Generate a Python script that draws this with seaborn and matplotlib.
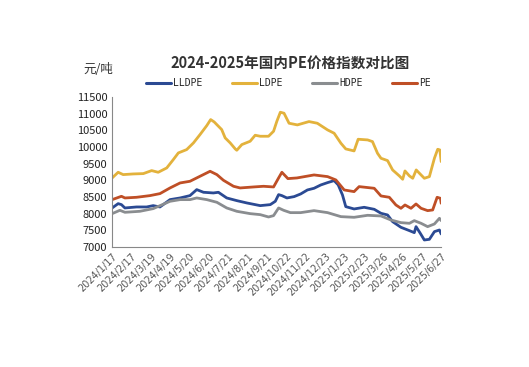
import matplotlib
matplotlib.use('Agg')
import matplotlib.pyplot as plt
import seaborn as sns
import pandas as pd

# 数据（按图读取，x 为刻度位置，单位约为一个月）
tick_labels = ['2024/1/17', '2024/2/17', '2024/3/19', '2024/4/19', '2024/5/20', '2024/6/20',
               '2024/7/21', '2024/8/21', '2024/9/21', '2024/10/22', '2024/11/22', '2024/12/23',
               '2025/1/23', '2025/2/23', '2025/3/26', '2025/4/26', '2025/5/27', '2025/6/27']

lldpe_x = [0, 0.31, 0.48, 0.66, 1.26, 1.78, 2.12, 2.47, 2.99, 3.51, 4.02, 4.37, 4.72, 5.23, 5.49,
           5.92, 6.44, 6.96, 7.65, 8.17, 8.43, 8.6, 8.77, 9.03, 9.4, 9.74, 10.09, 10.43, 10.78,
           11.13, 11.47, 11.68, 11.9, 12.07, 12.5, 13.02, 13.54, 13.89, 14.23, 14.49, 14.92,
           15.36, 15.61, 15.7, 15.92, 16.13, 16.39, 16.65, 16.91, 17]
lldpe_y = [8170, 8300, 8270, 8170, 8200, 8200, 8240, 8200, 8420, 8470, 8540, 8720, 8640, 8620, 8640,
           8470, 8390, 8320, 8240, 8270, 8370, 8570, 8540, 8470, 8510, 8590, 8710, 8760, 8860,
           8930, 8990, 8860, 8560, 8210, 8140, 8190, 8130, 8010, 7960, 7760, 7590,
           7490, 7430, 7610, 7410, 7210, 7230, 7460, 7510, 7390]

ldpe_x = [0, 0.31, 0.57, 1.09, 1.61, 2.04, 2.38, 2.82, 3.16, 3.42, 3.85, 4.2, 4.54, 4.89, 5.09,
          5.27, 5.49, 5.66, 5.84, 6.1, 6.36, 6.44, 6.7, 7.13, 7.39, 7.65, 8.08, 8.34, 8.51, 8.69,
          8.88, 9.14, 9.57, 10.17, 10.6, 11.13, 11.47, 11.82, 12.07, 12.5, 12.71, 13.2, 13.45,
          13.71, 13.89, 14.23, 14.49, 14.84, 15.01, 15.13, 15.36, 15.53, 15.71, 15.96, 16.13,
          16.39, 16.65, 16.82, 16.93, 17]
ldpe_y = [9070, 9240, 9170, 9190, 9200, 9290, 9240, 9370, 9620, 9820, 9920, 10120, 10370, 10640, 10820,
          10750, 10620, 10520, 10270, 10120, 9940, 9900, 10070, 10170, 10350, 10320, 10320, 10470, 10770, 11040,
          11010, 10710, 10660, 10760, 10710, 10510, 10410, 10110, 9940, 9880, 10230, 10210, 10160,
          9810, 9660, 9590, 9310, 9130, 9030, 9280, 9130, 9060, 9310, 9160, 9060,
          9110, 9660, 9930, 9910, 9560]

hdpe_x = [0, 0.4, 0.66, 1.43, 2.12, 2.99, 3.51, 4.02, 4.37, 4.89, 5.41, 5.92, 6.44, 7.13, 7.65,
          8.08, 8.34, 8.6, 8.86, 9.21, 9.74, 10.43, 11.13, 11.82, 12.5, 13.2, 13.89, 14.4, 14.92,
          15.36, 15.61, 15.96, 16.3, 16.65, 16.91, 17]
hdpe_y = [8000, 8100, 8040, 8070, 8150, 8370, 8420, 8420, 8470, 8420, 8340, 8170, 8070, 8000, 7970,
          7900, 7940, 8170, 8100, 8030, 8030, 8090, 8030, 7910, 7890, 7950, 7930, 7810, 7730,
          7710, 7790, 7710, 7610, 7690, 7860, 7790]

pe_x = [0, 0.48, 0.66, 1.26, 1.95, 2.47, 2.99, 3.51, 4.02, 4.54, 5.06, 5.41, 5.75, 6.27, 6.61,
        7.31, 7.82, 8.34, 8.6, 8.77, 9.08, 9.55, 10.43, 11.13, 11.56, 11.99, 12.5, 12.76, 13.54,
        13.89, 14.32, 14.66, 14.92, 15.13, 15.44, 15.7, 15.96, 16.3, 16.56, 16.79, 16.96, 17]
pe_y = [8420, 8520, 8470, 8490, 8540, 8600, 8770, 8920, 8970, 9120, 9270, 9170, 9000, 8820, 8770,
        8800, 8820, 8800, 9070, 9240, 9050, 9070, 9160, 9110, 9010, 8710, 8660, 8810, 8760,
        8530, 8490, 8260, 8160, 8260, 8160, 8290, 8160, 8090, 8110, 8490, 8460, 8310]

series = {'LLDPE': (lldpe_x, lldpe_y), 'LDPE': (ldpe_x, ldpe_y),
          'HDPE': (hdpe_x, hdpe_y), 'PE': (pe_x, pe_y)}
colors = {'LLDPE': '#2b4a93', 'LDPE': '#e3b23c', 'HDPE': '#8a8d90', 'PE': '#bf4f26'}

df = pd.concat([pd.DataFrame({'x': xs, 'price': ys, 'name': k}) for k, (xs, ys) in series.items()])

sns.set_style('white')
plt.rcParams['font.family'] = ['Noto Sans CJK SC', 'DejaVu Sans']

fig = plt.figure(figsize=(5.29, 3.67), dpi=100)
ax = fig.add_axes([0.212, 0.327, 0.622, 0.409])

sns.lineplot(data=df, x='x', y='price', hue='name', palette=colors, sort=False,
             estimator=None, linewidth=2.0, ax=ax, legend=False)

ax.set_xlim(0, 17)
ax.set_ylim(7000, 11500)
ax.set_yticks(range(7000, 11501, 500))
ax.set_xticks(range(len(tick_labels)))
ax.set_xticklabels(tick_labels, rotation=45, ha='right', rotation_mode='anchor',
                   fontsize=7, color='#555555', family='DejaVu Sans')
ax.tick_params(axis='y', labelsize=8, colors='#222222', direction='in', length=3, color='#888888')
ax.tick_params(axis='x', direction='in', length=3, color='#888888', pad=3)
ax.set_xlabel('')
ax.set_ylabel('')
for s in ['top', 'right']:
    ax.spines[s].set_visible(False)
for s in ['left', 'bottom']:
    ax.spines[s].set_color('#888888')
    ax.spines[s].set_linewidth(0.8)

fig.text(0.548, 0.83, '2024-2025年国内PE价格指数对比图', ha='center', va='center',
         fontsize=10.5, fontweight='bold', color='#333333')
fig.text(0.185, 0.81, '元/吨', ha='center', va='center', fontsize=9, color='#333333')

# 图例
handles = [plt.Line2D([], [], color=colors[k], lw=2.2) for k in series]
fig.legend(handles, list(series.keys()), loc='center', bbox_to_anchor=(0.545, 0.773),
           ncol=4, frameon=False, fontsize=7, handlelength=2.6, handletextpad=0.2,
           columnspacing=3.0, prop={'family': 'DejaVu Sans Mono', 'size': 7})

fig.savefig('out.png', dpi=100)
